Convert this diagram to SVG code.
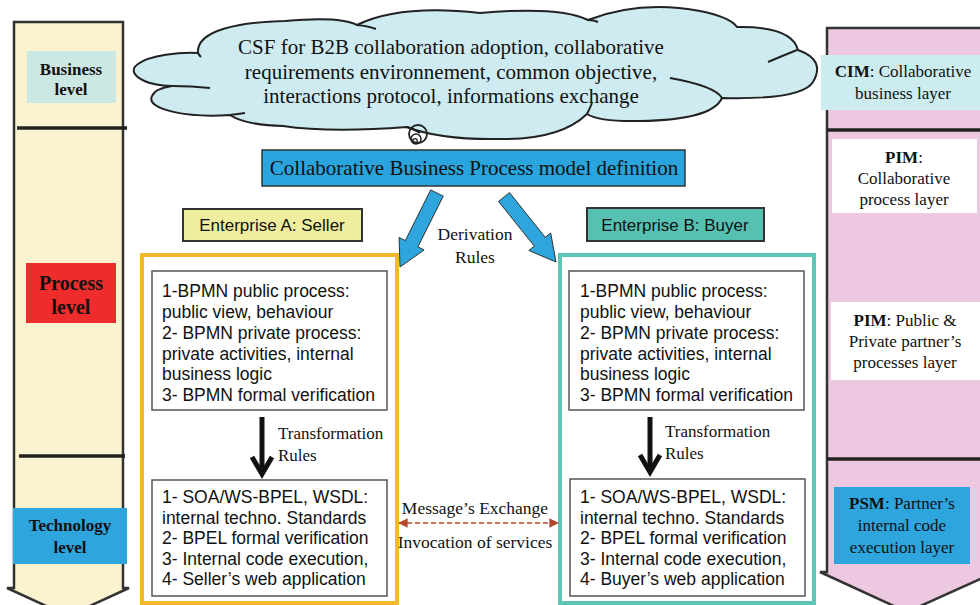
<svg xmlns="http://www.w3.org/2000/svg" width="980" height="605" viewBox="0 0 980 605">
<defs>
<style>
.serif{font-family:"Liberation Serif","Times New Roman",serif;fill:#111}
.sans{font-family:"Liberation Sans",Arial,sans-serif;fill:#111}
.col{stroke:#333;stroke-width:2.5}
.sep{stroke:#222;stroke-width:3.5}
.inner{fill:#fff;stroke:#555;stroke-width:1.5}
.blk{fill:#2ea5dc;stroke:#333;stroke-width:1}
.cl{fill:none;stroke:#222;stroke-width:2}
</style>
<marker id="dh" viewBox="0 0 10 10" refX="9" refY="5" markerWidth="6" markerHeight="6" orient="auto-start-reverse">
<path d="M0,0 L10,5 L0,10 Z" fill="#b5482a"/>
</marker>
</defs>
<rect width="980" height="605" fill="#fff"/>

<g id="left-column">
<path class="col" d="M14,22 H123 V588 L129,588 L68,616 L7,588 L14,588 Z" fill="#fbf3cf"/>
<line class="sep" x1="17" y1="128" x2="127" y2="128"/>
<line class="sep" x1="19" y1="456" x2="125" y2="456"/>
<rect x="27" y="51" width="89" height="52" fill="#cce8e3"/>
<text class="serif" font-weight="bold" font-size="17" text-anchor="middle"><tspan x="71" y="75">Business</tspan><tspan x="71" y="95">level</tspan></text>
<rect x="26" y="263" width="90" height="60" fill="#ee2c2c"/>
<text class="serif" font-weight="bold" font-size="20" text-anchor="middle"><tspan x="71" y="290">Process</tspan><tspan x="71" y="314">level</tspan></text>
<rect x="13" y="508" width="114" height="56" fill="#2ea5dc"/>
<text class="serif" font-weight="bold" font-size="17" text-anchor="middle"><tspan x="70" y="531">Technology</tspan><tspan x="70" y="553">level</tspan></text>
</g>

<g id="right-column">
<path class="col" d="M827,28 H992 V572 L996,572 L907,612 L820,572 L827,572 Z" fill="#edc9e1"/>
<line class="sep" x1="827" y1="130" x2="980" y2="130"/>
<line class="sep" x1="827" y1="459" x2="980" y2="459"/>
<rect x="821" y="55" width="159" height="55" fill="#cdecef"/>
<text class="serif" font-size="17" text-anchor="middle"><tspan x="903" y="77"><tspan font-weight="bold">CIM</tspan>: Collaborative</tspan><tspan x="903" y="99">business layer</tspan></text>
<rect x="832" y="139" width="145" height="74" fill="#fff"/>
<text class="serif" font-size="17" text-anchor="middle"><tspan x="904" y="163"><tspan font-weight="bold">PIM</tspan>:</tspan><tspan x="904" y="184">Collaborative</tspan><tspan x="904" y="205">process layer</tspan></text>
<rect x="831" y="302" width="149" height="78" fill="#fff"/>
<text class="serif" font-size="17" text-anchor="middle"><tspan x="905" y="326"><tspan font-weight="bold">PIM</tspan>:  Public &amp;</tspan><tspan x="905" y="347">Private  partner’s</tspan><tspan x="905" y="368">processes layer</tspan></text>
<rect x="834" y="487" width="136" height="77" fill="#2ea5dc"/>
<text class="serif" font-size="17" text-anchor="middle"><tspan x="902" y="509"><tspan font-weight="bold">PSM</tspan>: Partner’s</tspan><tspan x="902" y="531">internal code</tspan><tspan x="902" y="553">execution layer</tspan></text>
</g>

<g id="csf-cloud">
<path d="M198,53 C196,30 240,22 285,21 Q340,16 357,25 Q400,4 480,13 Q560,6 588,20 Q640,0 700,11 Q730,17 737,27 Q792,26 798,50 Q826,60 813,82 Q802,100 722,98 Q712,120 640,121 Q600,122 587,114 Q560,140 500,139 Q440,140 407,127 Q330,133 283,126 Q245,125 230,115 C190,118 145,110 152,96 C155,89 165,87 172,86 C140,85 126,72 138,64 C150,55 180,52 198,53 Z" fill="#cdebf0" stroke="#222" stroke-width="2"/>
<path class="cl" d="M198,53 Q199,55 201,57 M172,86 Q192,86 210,88 M230,115 Q238,114 245,113 M357,25 Q368,26 376,29 M588,20 Q594,20 598,22 M797,50 Q782,56 768,62 M722,98 Q715,86 670,78 M587,114 Q590,108 592,103 M407,127 Q416,130 420,133"/>
<text class="serif" font-size="21" text-anchor="middle"><tspan x="451" y="54">CSF for B2B collaboration adoption, collaborative</tspan><tspan x="451" y="79">requirements environnement, common objective,</tspan><tspan x="451" y="103">interactions protocol, informations exchange</tspan></text>
<circle cx="418" cy="134" r="9" fill="none" stroke="#222" stroke-width="1.8"/>
<circle cx="416" cy="139" r="5" fill="none" stroke="#222" stroke-width="1.5"/>
<circle cx="415" cy="141" r="2.3" fill="none" stroke="#222" stroke-width="1.3"/>
</g>

<g id="cbp-model">
<rect x="262" y="150" width="423" height="36" fill="#29a4dd" stroke="#333" stroke-width="1.5"/>
<text class="serif" font-size="21" text-anchor="middle" x="474" y="175">Collaborative Business Process model definition</text>
</g>

<g id="enterprise-a-label">
<rect x="183" y="209" width="179" height="32" fill="#eeee9e" stroke="#333" stroke-width="2"/>
<text class="sans" font-size="17" text-anchor="middle" x="272" y="231">Enterprise A: Seller</text>
</g>
<g id="enterprise-b-label">
<rect x="587" y="208" width="177" height="33" fill="#56c1b1" stroke="#333" stroke-width="2"/>
<text class="sans" font-size="17" text-anchor="middle" x="675" y="231">Enterprise B: Buyer</text>
</g>

<g id="enterprise-a">
<rect x="142" y="255" width="255" height="348" fill="none" stroke="#f4b730" stroke-width="4"/>
<g id="a-process">
<rect class="inner" x="152" y="271" width="235" height="139"/>
<text class="sans" font-size="17.5"><tspan x="162" y="297">1-BPMN public process:</tspan><tspan x="162" y="318">public view, behaviour</tspan><tspan x="162" y="339">2- BPMN private process:</tspan><tspan x="162" y="360">private activities, internal</tspan><tspan x="162" y="380">business logic</tspan><tspan x="162" y="401">3- BPMN formal verification</tspan></text>
</g>
<g id="a-tech">
<rect class="inner" x="152" y="480" width="235" height="116"/>
<text class="sans" font-size="17.5"><tspan x="162" y="503">1- SOA/WS-BPEL, WSDL:</tspan><tspan x="162" y="523.5">internal techno. Standards</tspan><tspan x="162" y="544">2- BPEL formal verification</tspan><tspan x="162" y="564.5">3- Internal code execution,</tspan><tspan x="162" y="585">4- Seller’s web application</tspan></text>
</g>
</g>

<g id="enterprise-b">
<rect x="560" y="255" width="254" height="348" fill="none" stroke="#5ec6b6" stroke-width="4"/>
<g id="b-process">
<rect class="inner" x="569" y="271" width="235" height="139"/>
<text class="sans" font-size="17.5"><tspan x="580" y="297">1-BPMN public process:</tspan><tspan x="580" y="318">public view, behaviour</tspan><tspan x="580" y="339">2- BPMN private process:</tspan><tspan x="580" y="360">private activities, internal</tspan><tspan x="580" y="380">business logic</tspan><tspan x="580" y="401">3- BPMN formal verification</tspan></text>
</g>
<g id="b-tech">
<rect class="inner" x="570" y="479" width="235" height="117"/>
<text class="sans" font-size="17.5"><tspan x="580" y="503">1- SOA/WS-BPEL, WSDL:</tspan><tspan x="580" y="523.5">internal techno. Standards</tspan><tspan x="580" y="544">2- BPEL formal verification</tspan><tspan x="580" y="564.5">3- Internal code execution,</tspan><tspan x="580" y="585">4- Buyer’s web application</tspan></text>
</g>
</g>

<g id="connectors">
<polygon class="blk" points="443.3,196.1 417.9,246.8 424.1,250 400,267 399.1,237.4 405.3,240.6 430.7,189.9"/>
<polygon class="blk" points="509.5,192.6 545.2,237.3 550.7,233 556,262 528.8,250.5 534.3,246.1 498.5,201.4"/>
<text class="serif" font-size="17.5" text-anchor="middle"><tspan x="475" y="240">Derivation</tspan><tspan x="475" y="263">Rules</tspan></text>
<g stroke="#111" stroke-width="5" fill="none" stroke-linecap="butt">
<line x1="262" y1="417" x2="262" y2="472"/>
<polyline points="252,457 262,474 272,457" stroke-linejoin="miter"/>
<line x1="650" y1="417" x2="650" y2="470"/>
<polyline points="640,455 650,472 660,455" stroke-linejoin="miter"/>
</g>
<text class="serif" font-size="17"><tspan x="278" y="439">Transformation</tspan><tspan x="278" y="461">Rules</tspan></text>
<text class="serif" font-size="17"><tspan x="665" y="437">Transformation</tspan><tspan x="665" y="459">Rules</tspan></text>
<line x1="399" y1="523" x2="558" y2="523" stroke="#b5482a" stroke-width="1.6" stroke-dasharray="5,3" marker-start="url(#dh)" marker-end="url(#dh)"/>
<text class="serif" font-size="17.5" text-anchor="middle"><tspan x="475" y="514">Message’s Exchange</tspan><tspan x="475" y="548">Invocation of services</tspan></text>
</g>
</svg>
